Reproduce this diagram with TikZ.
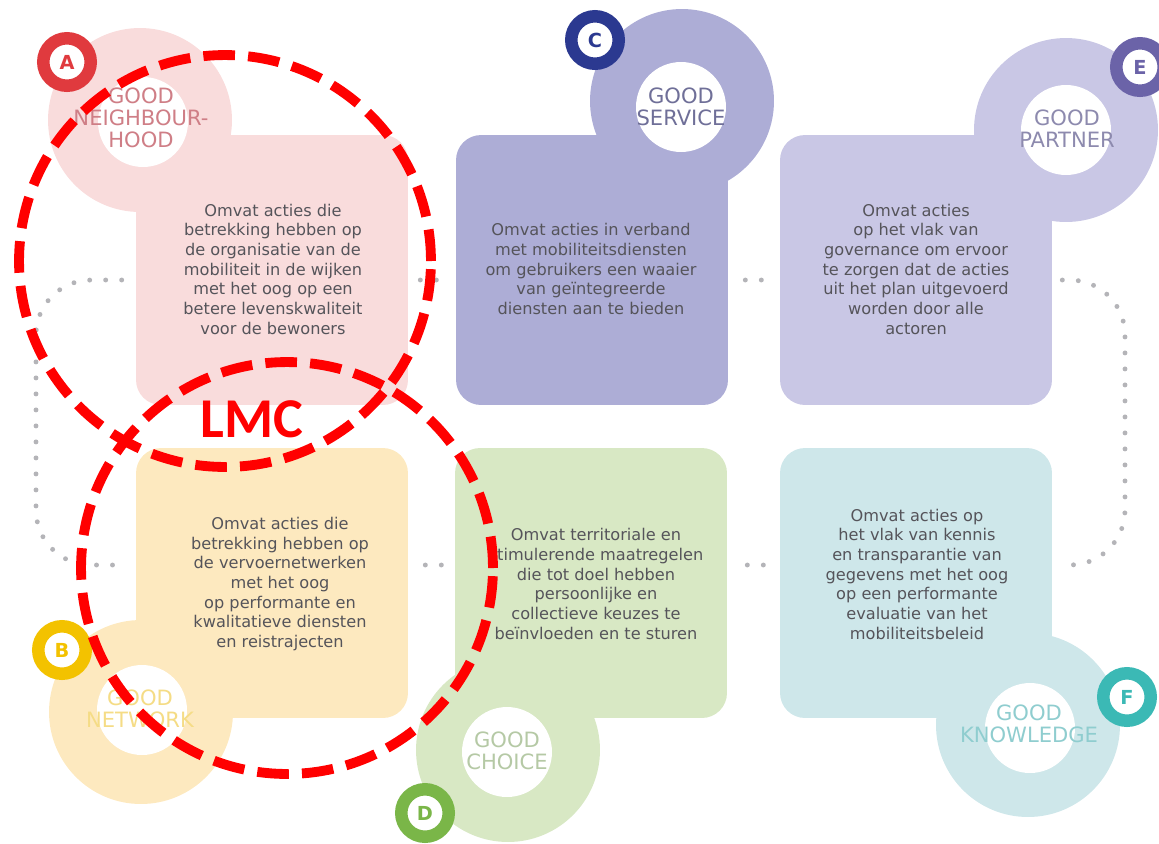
\documentclass[tikz,border=0pt]{standalone}
\usepackage{fontspec}
\setmainfont{DejaVu Sans}
\newfontfamily\lmcfont{Carlito}
\usetikzlibrary{calc}
\definecolor{pinkA}{HTML}{F9DCDC}
\definecolor{yellowB}{HTML}{FDE9BF}
\definecolor{purpleC}{HTML}{ADADD6}
\definecolor{greenD}{HTML}{D8E8C4}
\definecolor{lilacE}{HTML}{C9C7E5}
\definecolor{tealF}{HTML}{CEE7EA}
\definecolor{ringA}{HTML}{E03A3E}
\definecolor{ringB}{HTML}{F3C200}
\definecolor{ringC}{HTML}{2B3990}
\definecolor{ringD}{HTML}{7AB648}
\definecolor{ringE}{HTML}{6B63A8}
\definecolor{ringF}{HTML}{3BB9B5}
\definecolor{lblA}{HTML}{CF7E86}
\definecolor{lblB}{HTML}{F5DC85}
\definecolor{lblC}{HTML}{6F6F98}
\definecolor{lblD}{HTML}{B5C9A5}
\definecolor{lblE}{HTML}{8D8AAE}
\definecolor{lblF}{HTML}{8FCDCF}
\definecolor{txtgray}{HTML}{55545A}
\definecolor{dotgray}{HTML}{B4B4B8}
\definecolor{lmcred}{HTML}{FF0000}
\tikzset{
  box/.style={rounded corners=0.5cm, minimum width=5.44cm, minimum height=5.4cm, inner sep=0},
  disc/.style={circle, minimum size=3.68cm, inner sep=0},
  hole/.style={circle, fill=white, minimum size=1.8cm, inner sep=0},
  lbl/.style={font=\fontsize{12}{12.6}\selectfont, align=center, inner sep=0},
  desc/.style={font=\fontsize{9.2}{11.2}\selectfont, align=center, text=txtgray, inner sep=0},
  badge/.style={circle, draw=#1, text=#1, fill=white, line width=0.25cm, minimum size=0.95cm,
    inner sep=0, font=\bfseries\fontsize{11}{11}\selectfont},
  dots/.style={line width=2.8pt, line cap=round, dash pattern=on 0pt off 0.32cm, dotgray},
  focus/.style={circle, draw=lmcred, line width=5.6pt, dash pattern=on 18pt off 7.5pt,
    minimum size=8.24cm, inner sep=0}
}
\begin{document}
\begin{tikzpicture}[x=0.02cm, y=-0.02cm]
\useasboundingbox (0,0) rectangle (1159,843);
\clip (0,0) rectangle (1159,843);
\node[disc, fill=pinkA] (discA) at (140,120) {};
\node[disc, fill=purpleC] (discC) at (682,101) {};
\node[disc, fill=lilacE] (discE) at (1066,130) {};
\node[disc, fill=yellowB] (discB) at (141,712) {};
\node[disc, fill=greenD] (discD) at (508,750) {};
\node[disc, fill=tealF] (discF) at (1028,725) {};
\node[box, fill=pinkA] (boxA) at (272,270) {};
\node[box, fill=purpleC] (boxC) at (592,270) {};
\node[box, fill=lilacE] (boxE) at (916,270) {};
\node[box, fill=yellowB] (boxB) at (272,583) {};
\node[box, fill=greenD] (boxD) at (591,583) {};
\node[box, fill=tealF] (boxF) at (916,583) {};
\node[hole] (holeA) at (143,122) {};
\node[hole] (holeC) at (681,107) {};
\node[hole] (holeE) at (1066,130) {};
\node[hole] (holeB) at (142,710) {};
\node[hole] (holeD) at (507,752) {};
\node[hole] (holeF) at (1030,728) {};
\node[lbl, text=lblA] (lblA) at (141,118) {GOOD\\NEIGHBOUR-\\HOOD};
\node[lbl, text=lblC] (lblC) at (681,107) {GOOD\\SERVICE};
\node[lbl, text=lblE] (lblE) at (1067,129) {GOOD\\PARTNER};
\node[lbl, text=lblB] (lblB) at (140,709) {GOOD\\NETWORK};
\node[lbl, text=lblD] (lblD) at (507,751) {GOOD\\CHOICE};
\node[lbl, text=lblF] (lblF) at (1029,724) {GOOD\\KNOWLEDGE};
\node[desc] (descA) at (273,269) {Omvat acties die\\betrekking hebben op\\de organisatie van de\\mobiliteit in de wijken\\met het oog op een\\betere levenskwaliteit\\voor de bewoners};
\node[desc] (descC) at (591,269) {Omvat acties in verband\\met mobiliteitsdiensten\\om gebruikers een waaier\\van geïntegreerde\\diensten aan te bieden};
\node[desc] (descE) at (916,269) {Omvat acties\\op het vlak van\\governance om ervoor\\te zorgen dat de acties\\uit het plan uitgevoerd\\worden door alle\\actoren};
\node[desc] (descB) at (280,584) {Omvat acties die\\betrekking hebben op\\de vervoernetwerken\\met het oog\\op performante en\\kwalitatieve diensten\\en reistrajecten};
\node[desc] (descD) at (596,584) {Omvat territoriale en\\stimulerende maatregelen\\die tot doel hebben\\persoonlijke en\\collectieve keuzes te\\beïnvloeden en te sturen};
\node[desc] (descF) at (917,574) {Omvat acties op\\het vlak van kennis\\en transparantie van\\gegevens met het oog\\op een performante\\evaluatie van het\\mobiliteitsbeleid};
\draw[dots] ($(boxA.east)+(12,10)$) -- ($(boxC.west)+(-19,10)$);
\draw[dots] ($(boxC.east)+(17,10)$) -- ($(boxE.west)+(-17,10)$);
\draw[dots] ($(boxB.east)+(17,-18)$) -- ($(boxD.west)+(-13,-18)$);
\draw[dots] ($(boxD.east)+(20,-18)$) -- ($(boxF.west)+(-15,-18)$);
\draw[dots, rounded corners=1.1cm] ($(boxA.west)+(-14,10)$) -- (36,280) -- (36,565) -- ($(boxB.west)+(-14,-18)$);
\draw[dots, rounded corners=1.1cm] ($(boxE.east)+(10,10)$) -- (1125,280) -- (1125,565) -- ($(boxF.east)+(10,-18)$);
\node[badge=ringA] (badgeA) at (67,62) {A};
\node[badge=ringC] (badgeC) at (595,40) {C};
\node[badge=ringE] (badgeE) at (1140,67) {E};
\node[badge=ringB] (badgeB) at (62,650) {B};
\node[badge=ringD] (badgeD) at (425,813) {D};
\node[badge=ringF] (badgeF) at (1127,697) {F};
\node[focus] (focusA) at (225,261) {};
\node[focus] (focusB) at (287,568) {};
\node[text=lmcred, font=\lmcfont\bfseries\fontsize{32}{32}\selectfont, inner sep=0] (lmc) at (252,419) {LMC};
\end{tikzpicture}
\end{document}
